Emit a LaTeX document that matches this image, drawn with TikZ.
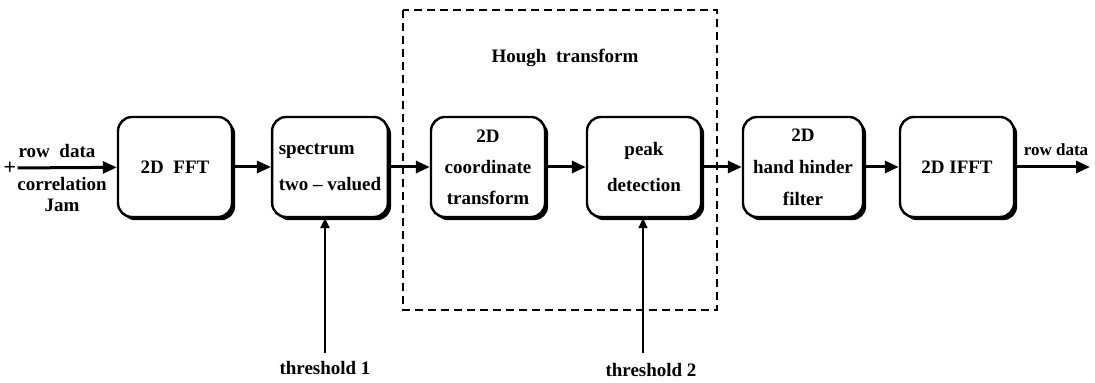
\documentclass[tikz,border=0pt]{standalone}
\usepackage{fontspec}
\setmainfont{Liberation Serif}
\usetikzlibrary{arrows.meta,shadows}
\tikzset{
  blockbox/.style={draw, line width=1.2pt, rounded corners=7pt, minimum width=57pt,
    minimum height=50pt, fill=white, align=center,
    font=\bfseries\fontsize{9.5}{18}\selectfont,
    drop shadow={shadow xshift=1.6pt, shadow yshift=-1.6pt, fill=black, opacity=1}},
  flow/.style={line width=1.5pt, -{Triangle[length=7pt,width=6pt]}},
  thr/.style={line width=1.4pt, -{Triangle[length=5pt,width=4.5pt]}},
  lbl/.style={font=\bfseries\fontsize{9.5}{10.5}\selectfont, inner sep=1pt}
}
\begin{document}
\begin{tikzpicture}[x=0.5pt,y=-0.5pt]
                \useasboundingbox (0,0) rectangle (1095,383);
                % Hough part
                \draw[line width=0.9pt, dash pattern=on 4pt off 2.5pt] (403,10) rectangle (717,310);
                \node[lbl] (hough) at (565,58) {Hough\enspace transform};

                \node[blockbox] (fft) at (175,167) {2D\enspace FFT};
                \node[blockbox, align=left] (spec) at (330,167) {spectrum\\two -- valued};
                \node[blockbox, font=\bfseries\fontsize{9.5}{15.5}\selectfont] (coord) at (488,167) {2D\\coordinate\\transform};
                \node[blockbox] (peak) at (644,167) {peak\\detection};
                \node[blockbox, minimum width=60pt, font=\bfseries\fontsize{9.5}{16}\selectfont] (filt) at (803,167) {2D\\hand hinder\\filter};
                \node[blockbox] (ifft) at (957,167) {2D IFFT};

                % input and output
                \node[lbl, font=\bfseries\fontsize{11}{12}\selectfont, inner sep=0.5pt] (plus) at (10,168) {+};
                \node[lbl] (rowin) at (57,151) {row\enspace data};
                \node[lbl, align=center] (jam) at (62,195) {correlation\\Jam};
                \draw[flow] (plus) -- (fft);
                \coordinate (out) at (1090,167);
                \draw[flow] (ifft) -- (out);
                \node[lbl, font=\bfseries\fontsize{8.5}{10}\selectfont] (rowout) at (1056,150) {row data};

                \draw[flow] (fft) -- (spec);
                \draw[flow] (spec) -- (coord);
                \draw[flow] (coord) -- (peak);
                \draw[flow] (peak) -- (filt);
                \draw[flow] (filt) -- (ifft);

                % thresholds
                \node[lbl] (t1) at (325,368) {threshold 1};
                \coordinate (t1top) at (325,353);
                \draw[thr] (t1top) -- (t1top |- spec.south);
                \node[lbl] (t2) at (651,370) {threshold 2};
                \coordinate (t2top) at (643,353);
                \draw[thr, line width=0.9pt] (t2top) -- (t2top |- peak.south);
            \end{tikzpicture}
\end{document}
